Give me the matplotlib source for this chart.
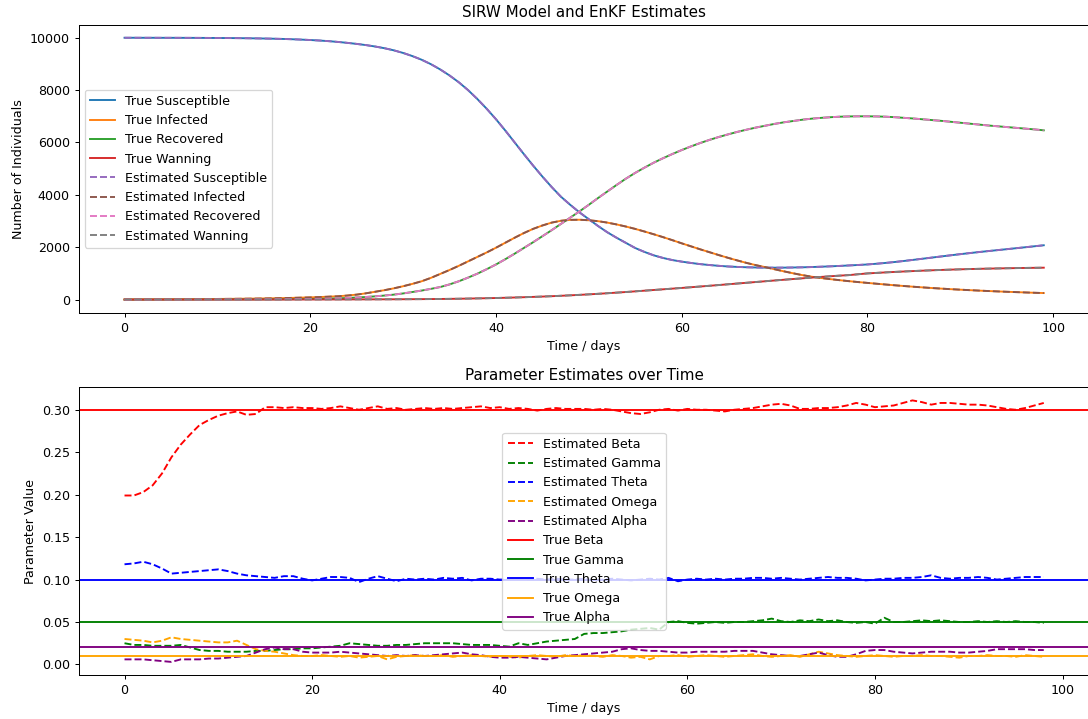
import numpy as np
import matplotlib.pyplot as plt

# SIRW compartments, one value per day (day 0..99)
days = np.arange(100)

susceptible = [
    10000, 10000, 9999, 9999, 9998, 9998, 9997, 9996, 9995, 9993,
    9991, 9989, 9986, 9982, 9977, 9971, 9964, 9955, 9944, 9930,
    9914, 9894, 9870, 9840, 9805, 9765, 9720, 9665, 9600, 9520,
    9420, 9300, 9160, 8990, 8790, 8560, 8300, 8000, 7660, 7290,
    6890, 6460, 6010, 5560, 5120, 4700, 4300, 3930, 3620, 3330,
    3070, 2810, 2570, 2360, 2165, 1970, 1820, 1690, 1590, 1510,
    1450, 1400, 1355, 1320, 1290, 1265, 1248, 1235, 1226, 1221,
    1219, 1221, 1226, 1233, 1243, 1256, 1270, 1286, 1304, 1322,
    1342, 1370, 1402, 1438, 1478, 1520, 1563, 1607, 1650, 1693,
    1735, 1775, 1815, 1852, 1889, 1925, 1962, 1999, 2037, 2075,
]
infected = [
    10, 11, 12, 13, 14, 16, 17, 19, 21, 23,
    25, 28, 31, 35, 39, 44, 50, 57, 65, 75,
    85, 97, 112, 128, 155, 190, 240, 300, 360, 430,
    510, 600, 700, 830, 980, 1130, 1290, 1460, 1630, 1800,
    1980, 2170, 2360, 2540, 2700, 2830, 2940, 3010, 3045, 3050,
    3030, 2995, 2940, 2870, 2790, 2700, 2600, 2495, 2385, 2270,
    2150, 2035, 1920, 1810, 1700, 1595, 1495, 1400, 1315, 1240,
    1160, 1080, 1005, 935, 875, 825, 782, 742, 705, 670,
    638, 606, 575, 545, 517, 490, 465, 441, 419, 398,
    379, 361, 344, 328, 313, 299, 286, 273, 261, 250,
]
recovered = [
    0, 0, 0, 1, 1, 1, 2, 2, 3, 3,
    4, 5, 6, 7, 8, 10, 12, 14, 17, 20,
    24, 30, 38, 48, 62, 80, 100, 125, 155, 190,
    235, 290, 345, 410, 480, 580, 700, 840, 990, 1160,
    1340, 1540, 1750, 1970, 2190, 2420, 2650, 2890, 3130, 3370,
    3620, 3880, 4130, 4380, 4620, 4840, 5040, 5230, 5400, 5560,
    5710, 5850, 5980, 6100, 6210, 6310, 6405, 6490, 6570, 6640,
    6710, 6770, 6820, 6870, 6910, 6940, 6965, 6985, 6995, 7000,
    7000, 6995, 6985, 6965, 6940, 6915, 6885, 6855, 6825, 6790,
    6755, 6720, 6685, 6650, 6620, 6590, 6560, 6530, 6500, 6465,
]
waning = [
    0, 0, 0, 0, 0, 0, 0, 0, 0, 0,
    1, 1, 1, 1, 1, 2, 2, 2, 3, 3,
    4, 4, 5, 6, 7, 8, 9, 10, 11, 12,
    14, 16, 18, 21, 24, 28, 33, 39, 46, 53,
    61, 70, 80, 91, 103, 116, 130, 146, 163, 181,
    200, 221, 243, 266, 290, 315, 341, 367, 393, 419,
    445, 472, 500, 528, 556, 585, 614, 643, 672, 701,
    730, 758, 786, 813, 840, 866, 891, 915, 935, 968,
    1000, 1020, 1040, 1058, 1075, 1091, 1106, 1120, 1133, 1145,
    1156, 1166, 1175, 1183, 1190, 1197, 1203, 1209, 1214, 1219,
]
# EnKF state estimate follows the true trajectory
est_susceptible = list(susceptible)
est_infected = list(infected)
est_recovered = list(recovered)
est_waning = list(waning)

# parameter estimates, day 0..98
param_days = np.arange(99)

est_beta = [
    0.199, 0.199, 0.203, 0.211, 0.225, 0.244, 0.259, 0.271, 0.282, 0.288,
    0.293, 0.296, 0.298, 0.294, 0.295, 0.303, 0.303, 0.302, 0.303, 0.302,
    0.302, 0.301, 0.302, 0.304, 0.302, 0.300, 0.302, 0.304, 0.301, 0.302,
    0.300, 0.301, 0.302, 0.301, 0.302, 0.301, 0.302, 0.303, 0.304, 0.302,
    0.303, 0.301, 0.302, 0.301, 0.299, 0.301, 0.302, 0.301, 0.301, 0.301,
    0.300, 0.301, 0.300, 0.298, 0.296, 0.295, 0.297, 0.300, 0.301, 0.299,
    0.301, 0.300, 0.300, 0.299, 0.298, 0.300, 0.301, 0.302, 0.304, 0.306,
    0.307, 0.305, 0.301, 0.301, 0.302, 0.302, 0.303, 0.305, 0.308, 0.306,
    0.303, 0.304, 0.305, 0.308, 0.311, 0.309, 0.306, 0.308, 0.308, 0.307,
    0.306, 0.306, 0.305, 0.303, 0.301, 0.300, 0.302, 0.305, 0.308,
]
est_gamma = [
    0.025, 0.023, 0.023, 0.022, 0.022, 0.022, 0.023, 0.020, 0.017, 0.016,
    0.016, 0.015, 0.015, 0.015, 0.016, 0.016, 0.017, 0.018, 0.018, 0.019,
    0.019, 0.020, 0.021, 0.022, 0.025, 0.024, 0.023, 0.022, 0.022, 0.023,
    0.023, 0.024, 0.025, 0.025, 0.025, 0.025, 0.024, 0.023, 0.023, 0.023,
    0.022, 0.021, 0.025, 0.023, 0.025, 0.027, 0.028, 0.029, 0.030, 0.036,
    0.037, 0.037, 0.038, 0.039, 0.041, 0.042, 0.043, 0.041, 0.050, 0.051,
    0.049, 0.048, 0.049, 0.050, 0.049, 0.050, 0.050, 0.051, 0.052, 0.054,
    0.051, 0.050, 0.052, 0.051, 0.053, 0.051, 0.052, 0.050, 0.049, 0.050,
    0.048, 0.055, 0.050, 0.050, 0.051, 0.052, 0.051, 0.052, 0.051, 0.050,
    0.050, 0.051, 0.050, 0.051, 0.050, 0.051, 0.050, 0.050, 0.049,
]
est_theta = [
    0.118, 0.119, 0.121, 0.118, 0.113, 0.107, 0.108, 0.109, 0.110, 0.111,
    0.112, 0.110, 0.107, 0.105, 0.104, 0.103, 0.102, 0.104, 0.104, 0.101,
    0.099, 0.101, 0.103, 0.103, 0.102, 0.097, 0.101, 0.104, 0.101, 0.098,
    0.101, 0.100, 0.101, 0.100, 0.102, 0.101, 0.102, 0.099, 0.101, 0.101,
    0.100, 0.100, 0.101, 0.100, 0.101, 0.100, 0.101, 0.100, 0.100, 0.101,
    0.099, 0.100, 0.101, 0.100, 0.099, 0.100, 0.101, 0.100, 0.102, 0.098,
    0.100, 0.101, 0.100, 0.101, 0.100, 0.101, 0.101, 0.102, 0.102, 0.101,
    0.102, 0.101, 0.100, 0.101, 0.102, 0.103, 0.102, 0.102, 0.101, 0.099,
    0.100, 0.101, 0.101, 0.102, 0.102, 0.103, 0.105, 0.102, 0.101, 0.102,
    0.102, 0.103, 0.102, 0.100, 0.101, 0.102, 0.103, 0.103, 0.103,
]
est_omega = [
    0.030, 0.029, 0.028, 0.026, 0.028, 0.032, 0.030, 0.029, 0.028, 0.027,
    0.026, 0.026, 0.028, 0.023, 0.018, 0.016, 0.015, 0.013, 0.011, 0.010,
    0.010, 0.011, 0.010, 0.009, 0.010, 0.008, 0.009, 0.010, 0.006, 0.009,
    0.010, 0.011, 0.010, 0.010, 0.011, 0.009, 0.010, 0.011, 0.010, 0.009,
    0.010, 0.009, 0.008, 0.010, 0.011, 0.010, 0.009, 0.011, 0.010, 0.011,
    0.010, 0.009, 0.011, 0.010, 0.008, 0.009, 0.006, 0.010, 0.010, 0.011,
    0.009, 0.010, 0.011, 0.010, 0.009, 0.010, 0.011, 0.012, 0.010, 0.009,
    0.010, 0.011, 0.009, 0.012, 0.015, 0.013, 0.011, 0.010, 0.009, 0.010,
    0.011, 0.010, 0.009, 0.010, 0.010, 0.011, 0.010, 0.010, 0.009, 0.008,
    0.010, 0.010, 0.011, 0.010, 0.010, 0.009, 0.011, 0.010, 0.009,
]
est_alpha = [
    0.006, 0.006, 0.006, 0.005, 0.004, 0.003, 0.006, 0.006, 0.006, 0.007,
    0.007, 0.008, 0.009, 0.010, 0.014, 0.018, 0.020, 0.018, 0.018, 0.015,
    0.014, 0.014, 0.014, 0.015, 0.014, 0.013, 0.012, 0.011, 0.010, 0.011,
    0.010, 0.011, 0.010, 0.011, 0.012, 0.013, 0.014, 0.012, 0.011, 0.009,
    0.008, 0.008, 0.009, 0.008, 0.007, 0.006, 0.008, 0.010, 0.011, 0.012,
    0.013, 0.014, 0.015, 0.018, 0.019, 0.017, 0.016, 0.016, 0.015, 0.014,
    0.014, 0.015, 0.015, 0.015, 0.015, 0.016, 0.016, 0.016, 0.014, 0.012,
    0.011, 0.010, 0.010, 0.012, 0.014, 0.011, 0.009, 0.009, 0.012, 0.016,
    0.017, 0.017, 0.015, 0.014, 0.013, 0.014, 0.015, 0.015, 0.015, 0.014,
    0.014, 0.015, 0.016, 0.018, 0.018, 0.018, 0.018, 0.017, 0.017,
]

true_beta = 0.3
true_gamma = 0.05
true_theta = 0.1
true_omega = 0.01
true_alpha = 0.02

dpi = 1088 / 12
fig = plt.figure(figsize=(12, 719 / dpi), dpi=dpi)
ax1 = fig.add_axes([0.0722, 0.5651, 0.9294, 0.4006])
ax2 = fig.add_axes([0.0722, 0.0612, 0.9294, 0.4001])

ax1.plot(days, susceptible, label='True Susceptible')
ax1.plot(days, infected, label='True Infected')
ax1.plot(days, recovered, label='True Recovered')
ax1.plot(days, waning, label='True Wanning')
ax1.plot(days, est_susceptible, '--', label='Estimated Susceptible')
ax1.plot(days, est_infected, '--', label='Estimated Infected')
ax1.plot(days, est_recovered, '--', label='Estimated Recovered')
ax1.plot(days, est_waning, '--', label='Estimated Wanning')
ax1.set_xlabel('Time / days')
ax1.set_ylabel('Number of Individuals')
ax1.set_title('SIRW Model and EnKF Estimates')
ax1.legend(loc='center left')

ax2.plot(param_days, est_beta, 'r--', label='Estimated Beta')
ax2.plot(param_days, est_gamma, 'g--', label='Estimated Gamma')
ax2.plot(param_days, est_theta, 'b--', label='Estimated Theta')
ax2.plot(param_days, est_omega, '--', color='orange', label='Estimated Omega')
ax2.plot(param_days, est_alpha, '--', color='purple', label='Estimated Alpha')
ax2.axhline(true_beta, color='r', label='True Beta')
ax2.axhline(true_gamma, color='g', label='True Gamma')
ax2.axhline(true_theta, color='b', label='True Theta')
ax2.axhline(true_omega, color='orange', label='True Omega')
ax2.axhline(true_alpha, color='purple', label='True Alpha')
ax2.set_xlabel('Time / days')
ax2.set_ylabel('Parameter Value')
ax2.set_title('Parameter Estimates over Time')
ax2.legend(loc='center')

fig.savefig('out.png', dpi=dpi)
